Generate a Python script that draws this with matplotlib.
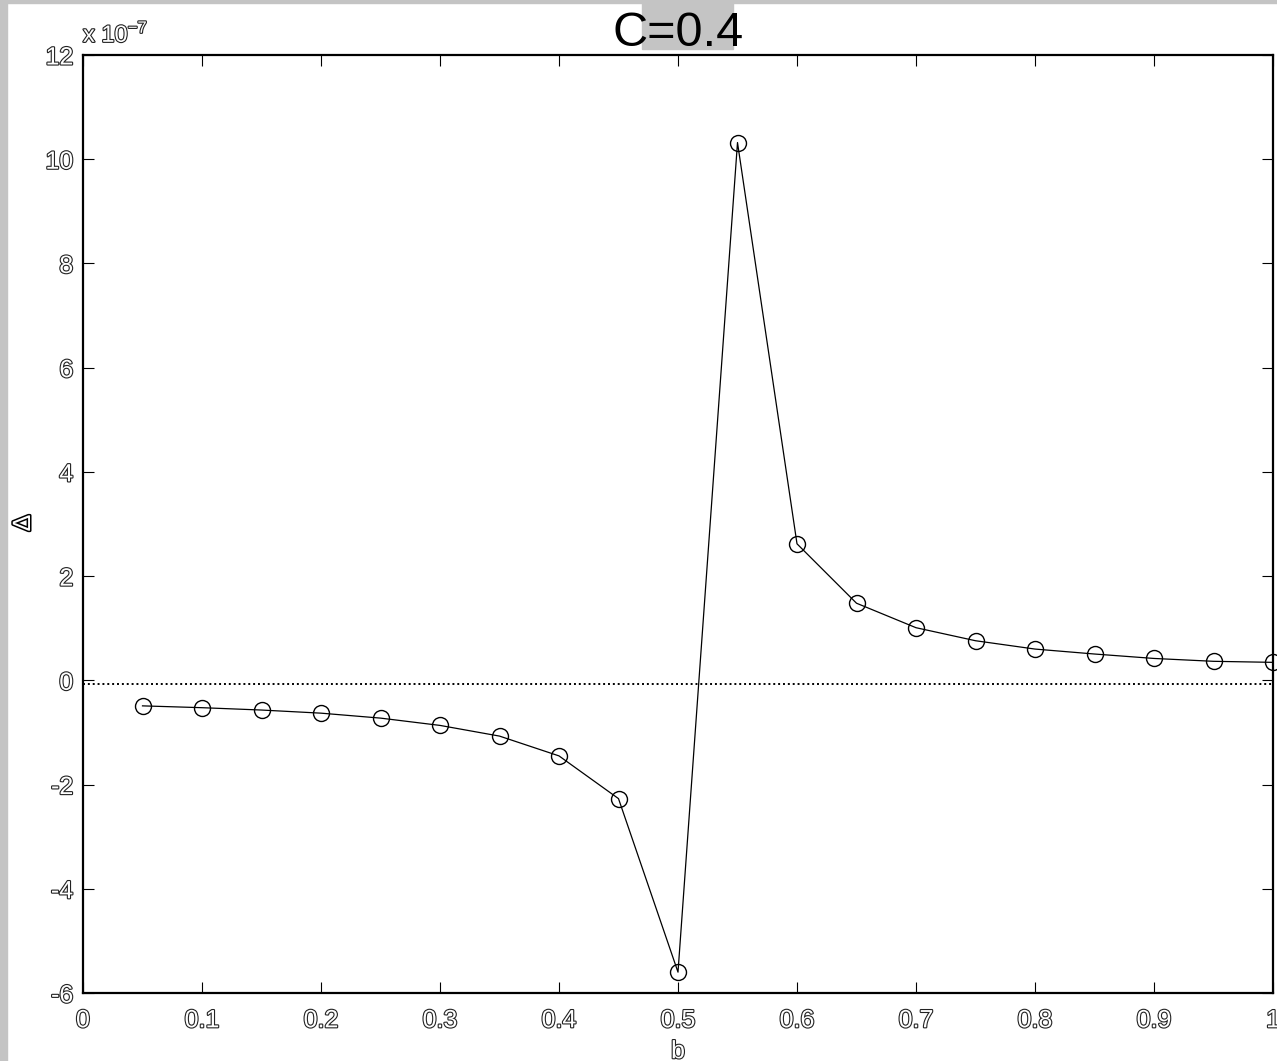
import numpy as np
import matplotlib
matplotlib.use('Agg')
import matplotlib.pyplot as plt
import matplotlib.patheffects as pe
from matplotlib.patches import Rectangle

# Dados (Delta em unidades de 1e-7)
b_vals = [0.05, 0.10, 0.15, 0.20, 0.25, 0.30, 0.35, 0.40, 0.45, 0.50,
          0.55, 0.60, 0.65, 0.70, 0.75, 0.80, 0.85, 0.90, 0.95, 1.00]
delta_vals = [-0.49, -0.525, -0.57, -0.63, -0.725, -0.865, -1.07, -1.45, -2.27, -5.60,
              10.32, 2.62, 1.48, 1.01, 0.76, 0.60, 0.505, 0.42, 0.365, 0.345]
linha_ref = -0.07
x_ticks = [0, 0.1, 0.2, 0.3, 0.4, 0.5, 0.6, 0.7, 0.8, 0.9, 1]
x_labels = ['0', '0.1', '0.2', '0.3', '0.4', '0.5', '0.6', '0.7', '0.8', '0.9', '1']
y_ticks = [-6, -4, -2, 0, 2, 4, 6, 8, 10, 12]

plt.rcParams['font.family'] = ['Liberation Sans', 'DejaVu Sans']
plt.rcParams['axes.unicode_minus'] = False

fig = plt.figure(figsize=(12.77, 10.61), dpi=100)
fig.patch.set_facecolor('white')

# Bordas cinzas (esquerda e topo)
cinza = '#c4c4c4'
fig.patches.append(Rectangle((0, 0), 7/1277, 1, transform=fig.transFigure, color=cinza, zorder=0))
fig.patches.append(Rectangle((0, 1 - 3/1061), 1, 3/1061, transform=fig.transFigure, color=cinza, zorder=0))
# Destaque cinza atrás do título
fig.patches.append(Rectangle((642/1277, 1 - 49/1061), 91/1277, 49/1061,
                             transform=fig.transFigure, color=cinza, zorder=0))

ax = fig.add_axes([83/1277, 68/1061, 1190/1277, 938/1061])

ax.plot(b_vals, delta_vals, color='black', lw=0.9, marker='o', ms=11.5,
        mfc='none', mec='black', mew=1.0, clip_on=False, zorder=3)
ax.axhline(linha_ref, color='black', lw=1.4, ls=(0, (1, 1.5)))

ax.set_xlim(0, 1)
ax.set_ylim(-6, 12)

contorno = [pe.withStroke(linewidth=1.6, foreground='#222222')]
ax.set_xticks(x_ticks)
ax.set_xticklabels(x_labels)
ax.set_yticks(y_ticks)
ax.tick_params(direction='in', top=True, right=True, length=8, width=0.8,
               labelsize=18, color='black')
ax.tick_params(axis='x', pad=11)
ax.tick_params(axis='y', pad=7)
for lbl in ax.get_xticklabels() + ax.get_yticklabels():
    lbl.set_color('white')
    lbl.set_path_effects(contorno)

for s in ax.spines.values():
    s.set_linewidth(1.6)

ax.set_xlabel('b', fontsize=18, labelpad=5, color='white', path_effects=contorno)
fig.text(23/1277, 1 - 523/1061, 'Δ', fontsize=18, rotation=90, ha='center', va='center',
         color='white', path_effects=[pe.withStroke(linewidth=2.2, foreground='black')])

fig.text(83/1277, 1 - 34/1061, r'x 10$^{\mathregular{-7}}$', fontsize=17, ha='left', va='center',
         color='white', path_effects=contorno)
fig.text(678/1277, 1 - 46/1061, 'C=0.4', fontsize=35, ha='center', va='baseline', color='black')

fig.savefig('out.png', dpi=100)
